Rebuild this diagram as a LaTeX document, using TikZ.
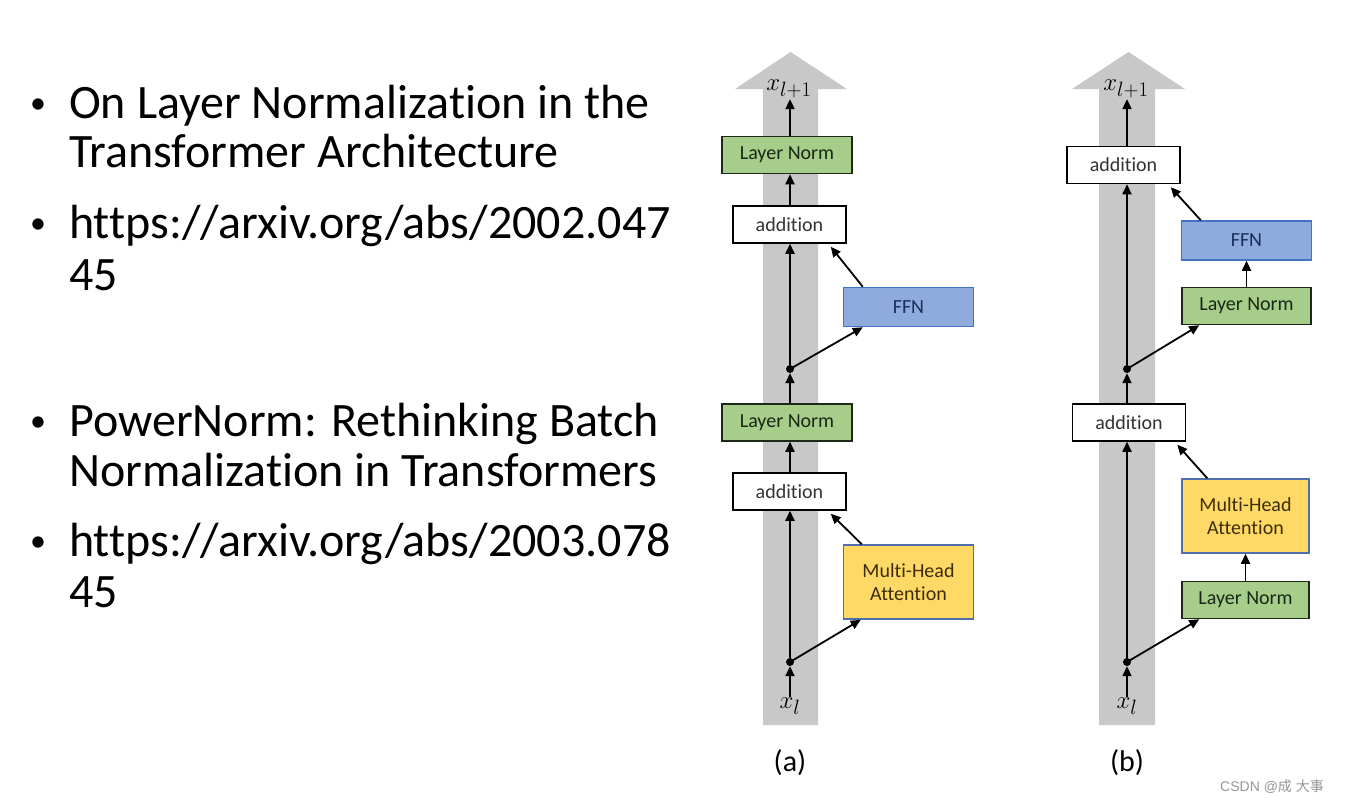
\documentclass[tikz,border=0pt]{standalone}
\usepackage{fontspec}
\setmainfont{Carlito}[Ligatures=NoCommon,RawFeature={-liga;-calt}]
\newfontfamily\wmfont{Liberation Sans}
\newfontfamily\cjkfont{Noto Sans CJK SC}
\usetikzlibrary{arrows.meta,calc}
\definecolor{colgray}{RGB}{200,200,200}
\definecolor{lngreen}{RGB}{166,206,138}
\definecolor{lnborder}{RGB}{30,40,25}
\definecolor{ffnblue}{RGB}{143,170,220}
\definecolor{ffnborder}{RGB}{68,114,196}
\definecolor{mhayellow}{RGB}{255,217,102}
\definecolor{mhaborder}{RGB}{80,110,170}
\definecolor{lntext}{RGB}{25,40,20}
\definecolor{ffntext}{RGB}{25,45,90}
\definecolor{mhatext}{RGB}{60,45,10}
\definecolor{wmgray}{RGB}{150,150,150}
\tikzset{
  blk/.style={draw, line width=1.5pt, inner sep=0pt, align=center,
    font=\fontsize{20}{23}\selectfont},
  lnbox/.style={blk, fill=lngreen, draw=lnborder, text=lntext, minimum width=130pt, minimum height=37pt},
  addbox/.style={blk, fill=white, draw=black, text=black!80, minimum width=113pt, minimum height=37pt},
  ffnbox/.style={blk, fill=ffnblue, draw=ffnborder, text=ffntext, minimum width=130pt, minimum height=39pt},
  mhabox/.style={blk, fill=mhayellow, draw=mhaborder, text=mhatext, minimum width=130pt, minimum height=74pt},
  conn/.style={line width=1.8pt, -{Triangle[length=10pt,width=9pt]}},
  junc/.style={circle, fill=black, inner sep=0pt, minimum size=8pt},
  mathlbl/.style={inner sep=1pt, font=\fontsize{29}{32}\selectfont},
  bullettext/.style={anchor=base west, inner sep=0pt, font=\fontsize{48}{50}\selectfont},
  bulletmark/.style={anchor=base, inner sep=0pt, font=\fontsize{32}{34}\selectfont},
  caption/.style={inner sep=0pt, font=\fontsize{30}{34}\selectfont}
}
\newcommand{\blt}{\raisebox{5pt}{•}}
\begin{document}
\begin{tikzpicture}[x=1pt,y=-1pt]
\useasboundingbox (0,0) rectangle (1348,803);
\fill[white] (0,0) rectangle (1348,803);

% left text
\node[bulletmark] (b1) at (38,118) {\blt};
\node[bullettext] (t1) at (69,118) {On Layer Normalization in the};
\node[bullettext] (t2) at (69,167) {Transformer Architecture};
\node[bulletmark] (b2) at (38,238) {\blt};
\node[bullettext] (t3) at (69,238) {https://arxiv.org/abs/2002.047};
\node[bullettext] (t4) at (69,290) {45};
\node[bulletmark] (b3) at (38,436) {\blt};
\node[bullettext] (t5) at (69,436) {PowerNorm: Rethinking Batch};
\node[bullettext] (t6) at (69,486) {Normalization in Transformers};
\node[bulletmark] (b4) at (38,556) {\blt};
\node[bullettext] (t7) at (69,556) {https://arxiv.org/abs/2003.078};
\node[bullettext] (t8) at (69,607) {45};

% ---------- (a) ----------
\fill[colgray] (763,725) -- (763,89) -- (735,89) -- (790.5,52) -- (847,89) -- (818,89) -- (818,725) -- cycle;
\node[mathlbl] (xl1a) at (789,89) {$x_{l+1}$};
\node[mathlbl] (xla) at (790,706) {$x_l$};
\node[lnbox] (ln2a) at (787,155) {Layer Norm};
\node[addbox] (add2a) at (789.5,224.5) {addition};
\node[ffnbox] (ffna) at (908.5,307) {FFN};
\node[junc] (d2a) at (790,369) {};
\node[lnbox] (ln1a) at (787,422.5) {Layer Norm};
\node[addbox] (add1a) at (789.5,491.5) {addition};
\node[mhabox] (mhaa) at (908.5,582) {Multi-Head\\Attention};
\node[junc] (d1a) at (790,662) {};
\node[caption] (capa) at (790,763) {(a)};

\draw[conn] (xla) -- (d1a);
\draw[conn] (d1a) -- (d1a |- add1a.south);
\draw[conn] (d1a.center) -- ($(mhaa.south west)+(18,0)$);
\draw[conn] ($(mhaa.north west)+(19,0)$) -- ($(add1a.south east)+(-16,3)$);
\draw[conn] (d1a |- add1a.north) -- (d1a |- ln1a.south);
\draw[conn] (d1a |- ln1a.north) -- (d2a);
\draw[conn] (d2a) -- (d2a |- add2a.south);
\draw[conn] (d2a.center) -- ($(ffna.south west)+(20,0)$);
\draw[conn] ($(ffna.north west)+(20,0)$) -- ($(add2a.south east)+(-16,3)$);
\draw[conn] (d2a |- add2a.north) -- (d2a |- ln2a.south);
\draw[conn] (d2a |- ln2a.north) -- (xl1a.south -| d2a);

% ---------- (b) ----------
\fill[colgray] (1099,725) -- (1099,89) -- (1072,89) -- (1128.5,52) -- (1185,89) -- (1155,89) -- (1155,725) -- cycle;
\node[mathlbl] (xl1b) at (1126,89) {$x_{l+1}$};
\node[mathlbl] (xlb) at (1127,706) {$x_l$};
\node[addbox] (add2b) at (1123.5,165) {addition};
\node[ffnbox] (ffnb) at (1246.5,240.5) {FFN};
\node[lnbox, minimum width=129pt] (ln2b) at (1246.5,306) {Layer Norm};
\node[junc] (d2b) at (1127,369) {};
\node[addbox] (add1b) at (1129,422.5) {addition};
\node[mhabox, minimum width=127pt] (mhab) at (1245.5,516) {Multi-Head\\Attention};
\node[lnbox, minimum width=127pt] (ln1b) at (1245.5,600) {Layer Norm};
\node[junc] (d1b) at (1127,662) {};
\node[caption] (capb) at (1127,763) {(b)};

\draw[conn] (xlb) -- (d1b);
\draw[conn] (d1b) -- (d1b |- add1b.south);
\draw[conn] (d1b.center) -- ($(ln1b.south west)+(18,0)$);
\draw[conn] (ln1b.north) -- (mhab.south);
\draw[conn] ($(mhab.north west)+(26,0)$) -- ($(add1b.south east)+(-9,3)$);
\draw[conn] (d1b |- add1b.north) -- (d2b);
\draw[conn] (d2b) -- (d2b |- add2b.south);
\draw[conn] (d2b.center) -- ($(ln2b.south west)+(18,0)$);
\draw[conn] (ln2b.north) -- (ffnb.south);
\draw[conn] ($(ffnb.north west)+(20,0)$) -- ($(add2b.south east)+(-10,3)$);
\draw[conn] (d2b |- add2b.north) -- (xl1b.south -| d2b);

% watermark
\node[anchor=base west, inner sep=0pt, text=wmgray, font=\fontsize{14}{16}\selectfont] (wm) at (1220,791) {\wmfont CSDN @\cjkfont 成\wmfont{} \cjkfont 大事};
\end{tikzpicture}
\end{document}
